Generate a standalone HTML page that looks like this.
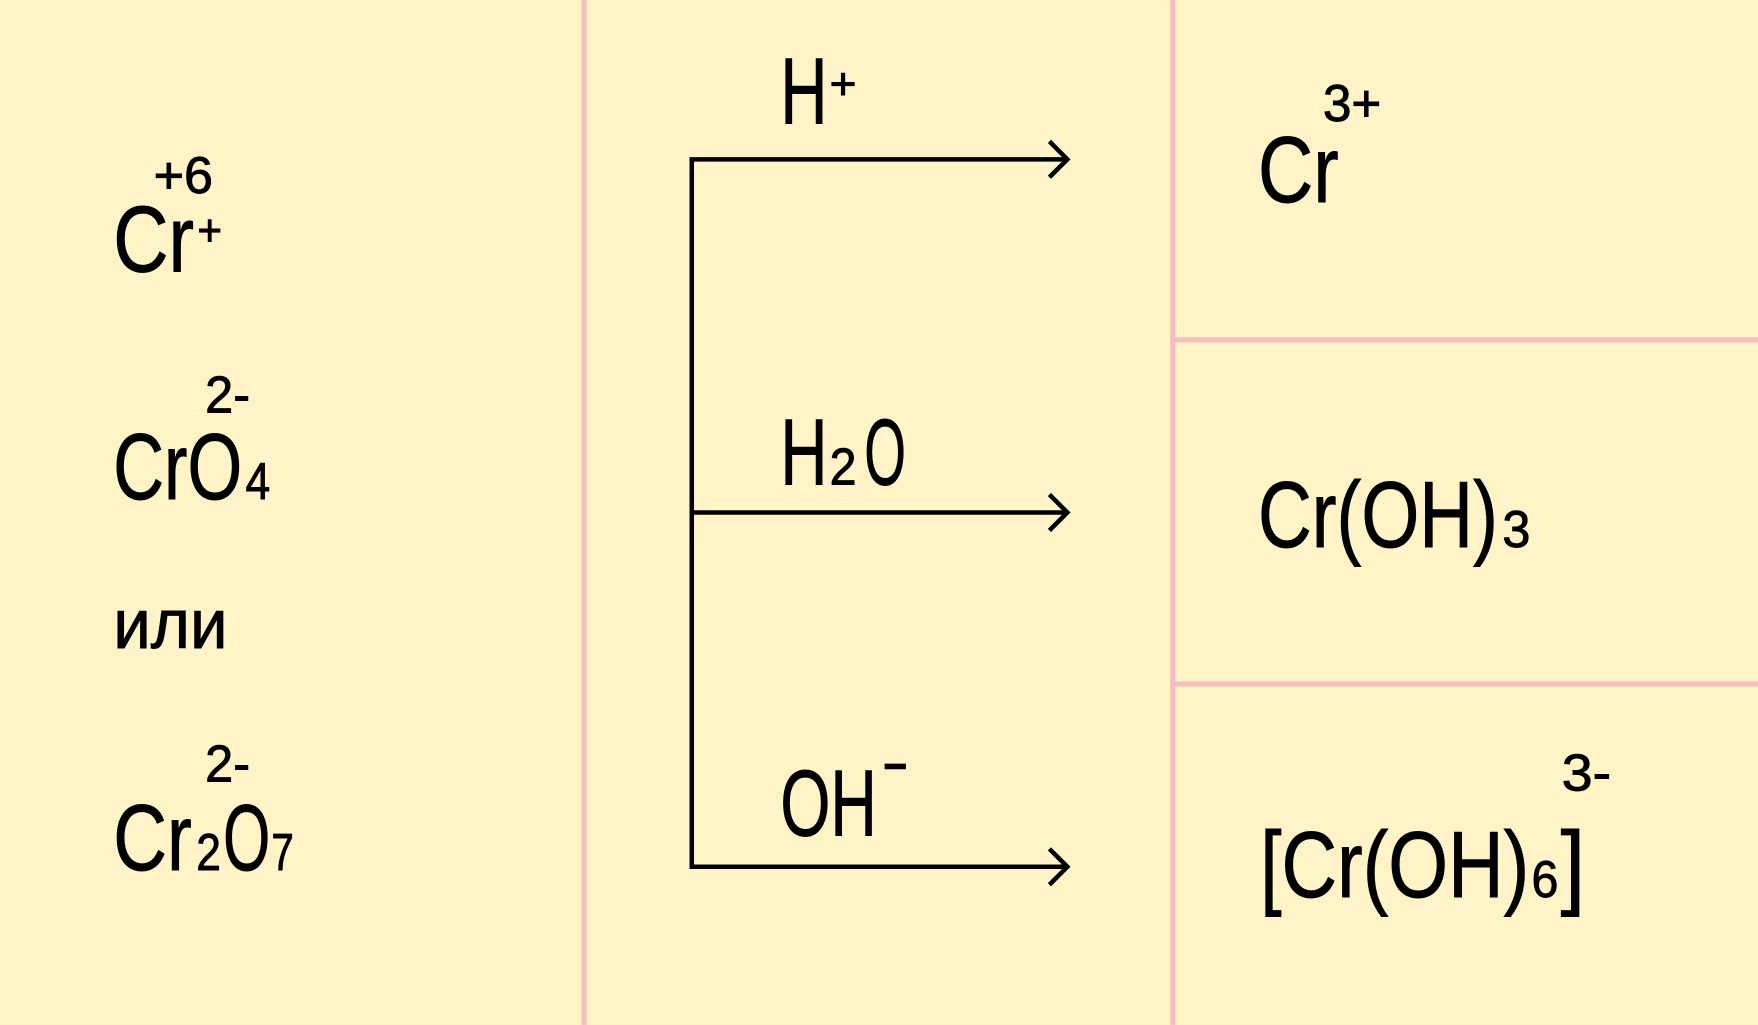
<!DOCTYPE html>
<html><head><meta charset="utf-8"><style>
html,body{margin:0;padding:0;background:#FFF3C7;}
svg{display:block}
text{font-family:"Liberation Sans",sans-serif;fill:#000;}
</style></head><body>
<svg width="1758" height="1025" viewBox="0 0 1568 914" xmlns="http://www.w3.org/2000/svg">
<rect width="1568" height="914" fill="#FFF3C7"/>
<g stroke="#F7BEC0" stroke-width="4.5">
<line x1="521" y1="0" x2="521" y2="914"/>
<line x1="1046" y1="0" x2="1046" y2="914"/>
<line x1="1046" y1="303" x2="1568" y2="303"/>
<line x1="1046" y1="610" x2="1568" y2="610"/>
</g>
<g stroke="#000" stroke-width="4" fill="none">
<polyline points="952,142 617,142 617,773 952,773"/>
<line x1="617" y1="457" x2="952" y2="457"/>
<polyline points="936,126 952,142 936,158"/>
<polyline points="936,441 952,457 936,473"/>
<polyline points="936,757 952,773 936,789"/>
</g>
<g stroke="#000" stroke-width="0.8">
<text x="137" y="172" font-size="46" textLength="53" lengthAdjust="spacingAndGlyphs">+6</text>
<text x="101" y="242" font-size="84" textLength="72" lengthAdjust="spacingAndGlyphs">Cr</text>
<text x="176" y="219" font-size="40" textLength="22" lengthAdjust="spacingAndGlyphs">+</text>
<text x="183" y="368" font-size="46" textLength="40" lengthAdjust="spacingAndGlyphs">2-</text>
<text x="101" y="445" font-size="84" textLength="115" lengthAdjust="spacingAndGlyphs">CrO</text>
<text x="219" y="445" font-size="46" textLength="22" lengthAdjust="spacingAndGlyphs">4</text>
<text x="101" y="578" font-size="62" textLength="102" lengthAdjust="spacingAndGlyphs">или</text>
<text x="183" y="697" font-size="46" textLength="40" lengthAdjust="spacingAndGlyphs">2-</text>
<text x="101" y="776" font-size="84" textLength="70" lengthAdjust="spacingAndGlyphs">Cr</text>
<text x="175" y="776" font-size="46" textLength="22" lengthAdjust="spacingAndGlyphs">2</text>
<text x="199" y="776" font-size="84" textLength="42" lengthAdjust="spacingAndGlyphs">O</text>
<text x="242" y="776" font-size="46" textLength="20" lengthAdjust="spacingAndGlyphs">7</text>
<text x="696" y="110" font-size="84" textLength="42" lengthAdjust="spacingAndGlyphs">H</text>
<text x="740" y="88" font-size="40" textLength="24" lengthAdjust="spacingAndGlyphs">+</text>
<text x="696" y="432" font-size="84" textLength="42" lengthAdjust="spacingAndGlyphs">H</text>
<text x="740" y="432" font-size="46" textLength="24" lengthAdjust="spacingAndGlyphs">2</text>
<text x="771" y="432" font-size="84" textLength="37" lengthAdjust="spacingAndGlyphs">O</text>
<text x="696" y="745" font-size="84" textLength="86" lengthAdjust="spacingAndGlyphs">OH</text>
<text x="1180" y="108" font-size="46" textLength="52" lengthAdjust="spacingAndGlyphs">3+</text>
<text x="1122" y="180" font-size="84" textLength="72" lengthAdjust="spacingAndGlyphs">Cr</text>
<text x="1122" y="488" font-size="84" textLength="214" lengthAdjust="spacingAndGlyphs">Cr(OH)</text>
<text x="1340" y="488" font-size="46" textLength="25" lengthAdjust="spacingAndGlyphs">3</text>
<text x="1393" y="705" font-size="46" textLength="44" lengthAdjust="spacingAndGlyphs">3-</text>
<text x="1124" y="800" font-size="84" textLength="240" lengthAdjust="spacingAndGlyphs">[Cr(OH)</text>
<text x="1366" y="800" font-size="46" textLength="24" lengthAdjust="spacingAndGlyphs">6</text>
<text x="1392" y="800" font-size="84" textLength="22" lengthAdjust="spacingAndGlyphs">]</text>
</g>
<rect x="789" y="681" width="19" height="5" fill="#000"/>
</svg>
</body></html>
